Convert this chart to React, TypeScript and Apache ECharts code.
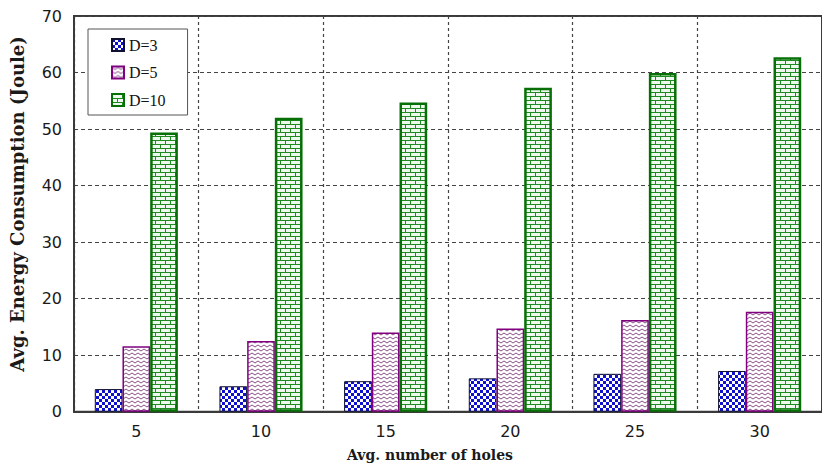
import { useEffect, useRef } from 'react';
import * as echarts from 'echarts';

// Average energy consumption per hole count, for three values of D
const categories = ['5', '10', '15', '20', '25', '30'];
const seriesNames = ['D=3', 'D=5', 'D=10'];
const d3Values = [4.0, 4.5, 5.4, 5.9, 6.7, 7.2];
const d5Values = [11.6, 12.5, 14.0, 14.7, 16.2, 17.7];
const d10Values = [49.4, 52.0, 54.7, 57.3, 59.9, 62.7];
const yMin = 0;
const yMax = 70;
const yInterval = 10;
const xTitle = 'Avg. number of holes';
const yTitle = 'Avg. Energy Consumption (Joule)';

type Draw = (ctx: CanvasRenderingContext2D) => void;

function makeTile(w: number, h: number, draw: Draw): HTMLCanvasElement {
  const c = document.createElement('canvas');
  c.width = w;
  c.height = h;
  const ctx = c.getContext('2d') as CanvasRenderingContext2D;
  draw(ctx);
  return c;
}

// Blue / white checkerboard
function checkerTile() {
  return makeTile(6, 6, (ctx) => {
    ctx.fillStyle = '#ffffff';
    ctx.fillRect(0, 0, 6, 6);
    ctx.fillStyle = '#1010d0';
    ctx.fillRect(0, 0, 3, 3);
    ctx.fillRect(3, 3, 3, 3);
  });
}

// Thin purple zigzag lines on white
function zigzagTile() {
  return makeTile(6, 4, (ctx) => {
    ctx.fillStyle = '#ffffff';
    ctx.fillRect(0, 0, 6, 4);
    ctx.strokeStyle = '#8a4f8a';
    ctx.lineWidth = 1;
    ctx.beginPath();
    ctx.moveTo(0, 1);
    ctx.lineTo(3, 3);
    ctx.lineTo(6, 1);
    ctx.stroke();
  });
}

// White bricks with green mortar
function brickTile() {
  return makeTile(10, 8, (ctx) => {
    ctx.fillStyle = '#1f8a1f';
    ctx.fillRect(0, 0, 10, 8);
    ctx.fillStyle = '#eef8ee';
    ctx.fillRect(1, 1, 9, 3);
    ctx.fillRect(0, 5, 5, 3);
    ctx.fillRect(6, 5, 4, 3);
  });
}

export default function App() {
  const ref = useRef<HTMLDivElement>(null);

  useEffect(() => {
    if (!ref.current) return;
    const chart = echarts.init(ref.current, undefined, { renderer: 'svg' });

    const checker = { image: checkerTile(), repeat: 'repeat' };
    const zigzag = { image: zigzagTile(), repeat: 'repeat' };
    const brick = { image: brickTile(), repeat: 'repeat' };

    const option: any = {
      animation: false,
      backgroundColor: '#ffffff',
      grid: {
        left: 74,
        top: 16,
        width: 757.5,
        height: 395.7,
        show: true,
        borderColor: '#3a3a3a',
        borderWidth: 2,
        backgroundColor: 'transparent',
      },
      legend: {
        orient: 'vertical',
        left: 88,
        top: 29,
        icon: 'rect',
        itemWidth: 12,
        itemHeight: 12,
        itemGap: 11.5,
        padding: [8, 22, 7, 23],
        backgroundColor: '#ffffff',
        borderColor: '#555555',
        borderWidth: 1,
        textStyle: {
          fontFamily: 'Liberation Serif',
          fontSize: 16,
          color: '#111111',
          lineHeight: 16,
        },
        data: seriesNames,
      },
      xAxis: {
        type: 'category',
        data: categories,
        axisLine: { show: true, lineStyle: { color: '#3a3a3a', width: 2 } },
        axisTick: { show: false },
        axisLabel: {
          margin: 12,
          fontFamily: 'DejaVu Sans',
          fontSize: 16,
          color: '#1a1a1a',
        },
        splitLine: {
          show: true,
          interval: 0,
          lineStyle: { color: '#444444', type: [3, 3], width: 1.2 },
        },
      },
      yAxis: {
        type: 'value',
        min: yMin,
        max: yMax,
        interval: yInterval,
        axisLine: { show: true, lineStyle: { color: '#3a3a3a', width: 2 } },
        axisTick: { show: false },
        axisLabel: {
          margin: 12,
          fontFamily: 'DejaVu Sans',
          fontSize: 16,
          color: '#1a1a1a',
        },
        splitLine: {
          show: true,
          lineStyle: { color: '#444444', type: [4, 3], width: 1.2 },
        },
      },
      series: [
        {
          name: seriesNames[0],
          type: 'bar',
          data: d3Values,
          barWidth: 27.7,
          barGap: '0%',
          itemStyle: { color: checker, borderColor: '#101030', borderWidth: 1 },
        },
        {
          name: seriesNames[1],
          type: 'bar',
          data: d5Values,
          barWidth: 27.7,
          barGap: '0%',
          itemStyle: { color: zigzag, borderColor: '#800080', borderWidth: 1.5 },
        },
        {
          name: seriesNames[2],
          type: 'bar',
          data: d10Values,
          barWidth: 27.7,
          barGap: '0%',
          itemStyle: { color: brick, borderColor: '#067006', borderWidth: 2.5 },
        },
      ],
      graphic: [
        {
          type: 'text',
          x: 430,
          y: 455,
          style: {
            text: xTitle,
            fontFamily: 'DejaVu Serif',
            fontWeight: 'bold',
            fontSize: 14,
            fill: '#1a1a1a',
            textAlign: 'center',
            textVerticalAlign: 'middle',
          },
        },
        {
          type: 'text',
          x: 17,
          y: 204,
          rotation: Math.PI / 2,
          style: {
            text: yTitle,
            fontFamily: 'DejaVu Serif',
            fontWeight: 'bold',
            fontSize: 18,
            fill: '#1a1a1a',
            textAlign: 'center',
            textVerticalAlign: 'middle',
          },
        },
      ],
    };

    chart.setOption(option);
    return () => chart.dispose();
  }, []);

  return (
    <div
      ref={ref}
      style={{ position: 'fixed', left: 0, top: 0, width: 822, height: 468 }}
    />
  );
}
